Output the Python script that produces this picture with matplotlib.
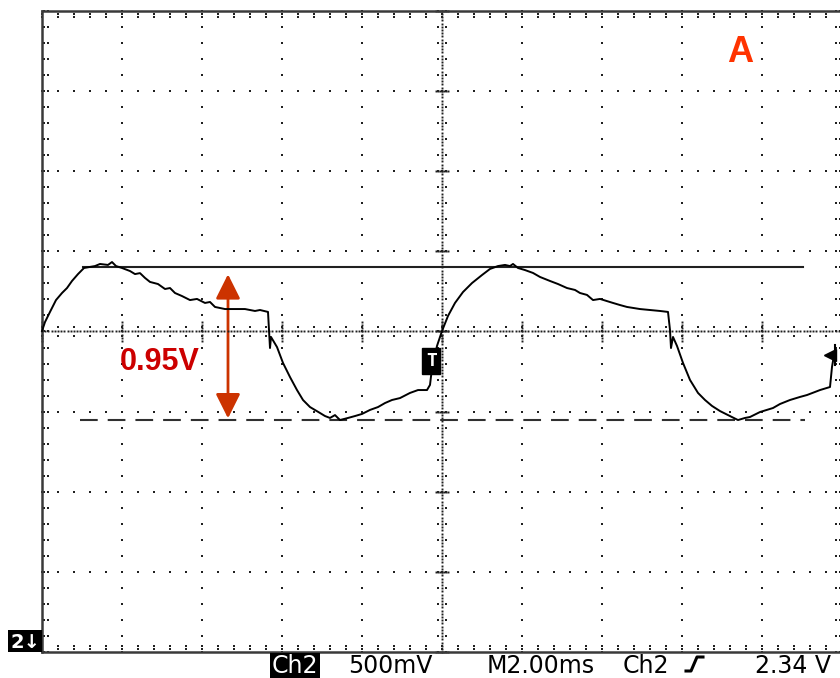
import numpy as np
import matplotlib
matplotlib.use('Agg')
from matplotlib import pyplot as plt
from matplotlib.lines import Line2D
from matplotlib.patches import Rectangle, FancyArrowPatch

# Ch2 trace: time in ms (2 ms/div), volts relative to the centre line (500 mV/div)
time_ms = [0.00, 0.075, 0.20, 0.35, 0.50, 0.625, 0.75, 0.90, 1.05, 1.325,
           1.45, 1.65, 1.75, 1.85, 2.00, 2.20, 2.325, 2.45, 2.575, 2.70,
           2.90, 3.075, 3.20, 3.325, 3.50, 3.70, 3.875, 4.075, 4.20, 4.325,
           4.575, 4.825, 5.075, 5.325, 5.45, 5.65, 5.675, 5.70, 5.725, 5.875,
           6.025, 6.20, 6.375, 6.525, 6.70, 6.95, 7.075, 7.20, 7.325, 7.45,
           7.65, 7.825, 8.00, 8.20, 8.40, 8.575, 8.75, 8.95, 9.20, 9.40,
           9.625, 9.70, 9.75, 9.875, 10.00, 10.15, 10.325, 10.525, 10.75, 11.00,
           11.20, 11.40, 11.575, 11.70, 11.775, 11.90, 12.075, 12.275, 12.45, 12.70,
           12.90, 13.125, 13.325, 13.45, 13.625, 13.775, 13.95, 14.275, 14.45, 14.625,
           14.95, 15.20, 15.45, 15.65, 15.70, 15.725, 15.775, 15.875, 16.025, 16.20,
           16.40, 16.575, 16.75, 16.95, 17.15, 17.40, 17.575, 17.70, 17.95, 18.275,
           18.45, 18.70, 18.95, 19.125, 19.325, 19.45, 19.70, 19.75, 19.80]
volts = [0.003, 0.059, 0.122, 0.196, 0.240, 0.271, 0.315, 0.358, 0.396, 0.408,
         0.421, 0.415, 0.433, 0.408, 0.396, 0.377, 0.358, 0.364, 0.334, 0.309,
         0.296, 0.265, 0.271, 0.240, 0.221, 0.196, 0.203, 0.178, 0.184, 0.153,
         0.140, 0.140, 0.140, 0.128, 0.134, 0.122, 0.009, -0.103, -0.034, -0.097,
         -0.196, -0.284, -0.365, -0.427, -0.471, -0.508, -0.527, -0.539, -0.521, -0.552,
         -0.539, -0.527, -0.514, -0.489, -0.471, -0.446, -0.427, -0.415, -0.383, -0.365,
         -0.365, -0.333, -0.228, -0.090, 0.003, 0.097, 0.178, 0.246, 0.302, 0.352,
         0.390, 0.408, 0.415, 0.408, 0.421, 0.396, 0.383, 0.365, 0.340, 0.315,
         0.296, 0.271, 0.259, 0.240, 0.228, 0.196, 0.203, 0.178, 0.165, 0.153,
         0.140, 0.134, 0.128, 0.122, 0.009, -0.103, -0.034, -0.090, -0.196, -0.302,
         -0.383, -0.427, -0.464, -0.496, -0.521, -0.552, -0.539, -0.533, -0.502, -0.477,
         -0.452, -0.427, -0.408, -0.396, -0.377, -0.365, -0.346, -0.221, -0.147]

# cursor levels and the measured swing between them
top_level = 0.40
swing = 0.95
top_span = [1.03, 19.03]
low_span = [0.95, 19.08]
arrow_t = 4.65

trig_pos = [9.73, -0.184]
level_pos = [19.70, -0.147]

readout_text = ["500mV", "M2.00ms", "Ch2", "2.34 V"]
readout_x = [348, 487, 623, 755]

W, H = 840, 678
DOT = '#202020'


def fpx(x, y):
    # figure pixel (from top-left) to figure fraction
    return x / W, 1 - y / H


def dots(ax, xs, ys, size=1.8):
    ax.plot(xs, ys, marker='s', markersize=size, markeredgewidth=0,
            linestyle='none', color=DOT, clip_on=False)


def draw_graticule(ax):
    minor_t = np.arange(0, 51) * 0.4
    minor_v = np.arange(-20, 21) * 0.1
    # dotted division lines
    for k in range(1, 10):
        if k == 5:
            continue
        dots(ax, np.full(minor_v.size, 2.0 * k), minor_v)
    for k in range(-3, 4):
        if k == 0:
            continue
        dots(ax, minor_t, np.full(minor_t.size, 0.5 * k))
    # centre cross, finer dots with small tick bars
    fine_t = np.arange(0, 251) * 0.08
    fine_v = np.arange(-100, 101) * 0.02
    dots(ax, fine_t, np.zeros(fine_t.size), 1.4)
    dots(ax, np.full(fine_v.size, 10.0), fine_v, 1.4)
    for off in (-0.025, 0.025):
        dots(ax, minor_t, np.full(minor_t.size, off), 1.5)
    for off in (-0.1, 0.1):
        dots(ax, np.full(minor_v.size, 10.0 + off), minor_v, 1.5)
    for k in range(0, 11):
        dots(ax, np.full(7, 2.0 * k), np.arange(-3, 4) * 0.02, 1.4)
    for k in range(-4, 5):
        dots(ax, 10.0 + np.arange(-3, 4) * 0.05, np.full(7, 0.5 * k), 1.4)
    # ticks just inside the frame
    for off in (0.02, 0.038):
        dots(ax, minor_t, np.full(minor_t.size, 2.0 - off), 1.5)
        dots(ax, minor_t, np.full(minor_t.size, -2.0 + off), 1.5)
    for off in (0.06, 0.15):
        dots(ax, np.full(minor_v.size, off), minor_v, 1.5)
        dots(ax, np.full(minor_v.size, 20.0 - off), minor_v, 1.5)
    # frame
    ax.plot([0, 20], [2, 2], color='#3a3a3a', lw=1.8, clip_on=False)
    ax.plot([0, 20], [-2, -2], color='#3a3a3a', lw=1.8, clip_on=False)
    ax.plot([0, 0], [-2, 2], color='#3a3a3a', lw=1.8, clip_on=False)


def plotting():
    fig = plt.figure(figsize=(W / 100, H / 100), dpi=100)
    ax = fig.add_axes([42 / W, (H - 652.3) / H, 800 / W, 641.6 / H])
    ax.set_xlim(0, 20)
    ax.set_ylim(-2, 2)
    ax.axis('off')

    draw_graticule(ax)

    # cursors
    ax.plot(top_span, [top_level, top_level], color='#202020', lw=1.5)
    ax.plot(low_span, [top_level - swing, top_level - swing], color='#303030',
            lw=1.5, linestyle=(0, (8.5, 4.8)))

    ax.plot(time_ms, volts, color='black', lw=1.4, clip_on=False)

    # trigger marker and level pointer
    ax.text(trig_pos[0], trig_pos[1], "T", color='white', fontsize=13,
            fontweight='bold', family='DejaVu Sans Mono', ha='center', va='center',
            bbox=dict(boxstyle='square,pad=0.2', fc='black', ec='black'))
    ax.plot([level_pos[0]], [level_pos[1]], marker='<', markersize=9,
            color='black', clip_on=False)
    ax.plot([level_pos[0] + 0.13, level_pos[0] + 0.13],
            [level_pos[1] - 0.06, level_pos[1] + 0.06], color='black', lw=1.5,
            clip_on=False)

    # measured swing
    arr = FancyArrowPatch((arrow_t, top_level - swing), (arrow_t, top_level),
                          arrowstyle='<|-|>,head_length=15,head_width=7.5',
                          mutation_scale=1, color='#cc3300', lw=2,
                          shrinkA=1, shrinkB=5)
    ax.add_patch(arr)
    ax.text(2.93, -0.19, "%.2fV" % swing, color='#cc0000', fontsize=22,
            fontweight='bold', family='Liberation Sans', ha='center', va='center')
    ax.text(17.45, 1.74, "A", color='#ff3300', fontsize=26, fontweight='bold',
            family='Liberation Sans', ha='center', va='center')

    # readout line under the screen
    fig.add_artist(Rectangle(fpx(270, 678), 50 / W, 25 / H, transform=fig.transFigure,
                             fc='black', ec='none'))
    x, y = fpx(295, 673)
    fig.text(x, y, "Ch2", color='white', fontsize=17, ha='center', va='baseline')
    for label, lx in zip(readout_text, readout_x):
        x, y = fpx(lx, 673)
        fig.text(x, y, label, color='black', fontsize=17, ha='left', va='baseline')
    ex = [686, 691, 697, 703]
    ey = [671, 671, 657, 657]
    fig.add_artist(Line2D([e / W for e in ex], [1 - e / H for e in ey],
                          transform=fig.transFigure, color='black', lw=2.2))

    # channel ground marker
    fig.add_artist(Rectangle(fpx(8, 652), 34 / W, 22 / H, transform=fig.transFigure,
                             fc='black', ec='none'))
    x, y = fpx(25, 642)
    fig.text(x, y, "2\u2193", color='white', fontsize=14, fontweight='bold',
             ha='center', va='center')

    fig.savefig('out.png', dpi=100)


plotting()
